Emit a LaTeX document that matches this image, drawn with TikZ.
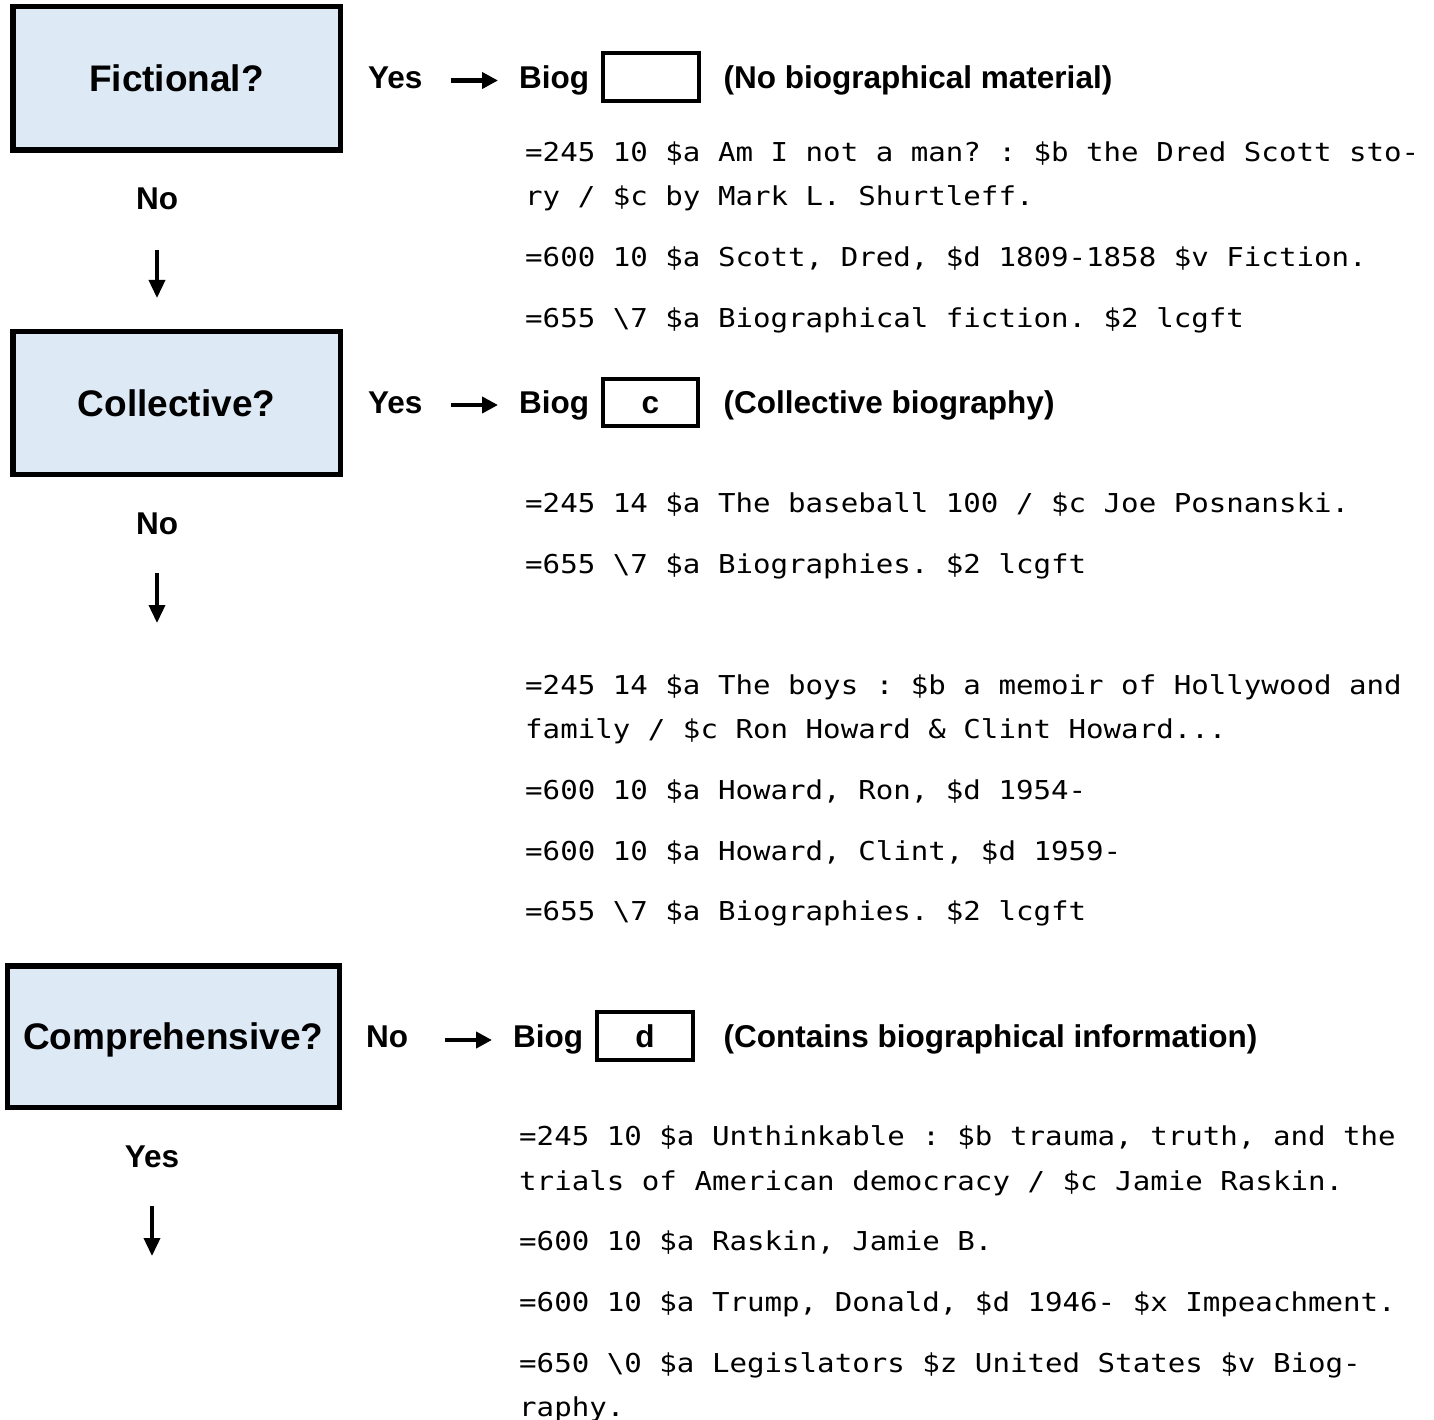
\documentclass[tikz,border=0pt]{standalone}
\usepackage{fontspec}
\setmainfont{Liberation Sans}
\newfontfamily\marcfont[FakeStretch=1.12]{DejaVu Sans Mono}
\usetikzlibrary{arrows.meta}
\definecolor{qfill}{RGB}{222,233,246}
\frenchspacing
\tikzset{
  qbox/.style={draw=black, line width=5.5pt, fill=qfill, inner sep=0pt,
    font=\fontsize{37}{44}\selectfont\bfseries, text height=26.5pt, text depth=0pt},
  lbl/.style={font=\fontsize{31.5}{38}\selectfont\bfseries, inner sep=0pt, anchor=base},
  lblw/.style={lbl, anchor=base west},
  codebox/.style={draw=black, line width=4.3pt, inner sep=0pt,
    font=\fontsize{31.5}{38}\selectfont\bfseries, text height=22.5pt, text depth=0pt},
  marc/.style={font=\fontsize{26}{31}\selectfont\marcfont\frenchspacing, inner sep=0pt, anchor=base west},
  harr/.style={line width=4.5pt, -{Triangle[length=16pt,width=16pt]}},
  varr/.style={line width=3.6pt, -{Triangle[length=18pt,width=16pt]}},
}
\begin{document}
\begin{tikzpicture}[x=1pt,y=-1pt]
\useasboundingbox (0,0) rectangle (1434,1420);

% question boxes
\node[qbox, minimum width=327.5pt, minimum height=143.5pt] (q1) at (176.5,78.5) {Fictional?};
\node[qbox, minimum width=327.5pt, minimum height=142.5pt] (q2) at (176.5,403) {Collective?};
\node[qbox, minimum width=332pt, minimum height=141.5pt] (q3) at (173.3,1036.5) {Comprehensive?};

% answers below boxes
\node[lbl] (n1) at (157,209.5) {No};
\node[lbl] (n2) at (157,534.5) {No};
\node[lbl] (y3) at (152,1167.5) {Yes};

\coordinate (v1s) at (157,250); \coordinate (v1e) at (157,298);
\coordinate (v2s) at (157,573); \coordinate (v2e) at (157,623);
\coordinate (v3s) at (152,1206); \coordinate (v3e) at (152,1256);
\draw[varr] (v1s) -- (v1e);
\draw[varr] (v2s) -- (v2e);
\draw[varr] (v3s) -- (v3e);

% row 1
\node[lblw] (a1) at (368,88.5) {Yes};
\coordinate (h1s) at (451,80.5); \coordinate (h1e) at (498,80.5);
\draw[harr] (h1s) -- (h1e);
\node[lblw] (b1) at (519,88.5) {Biog};
\node[codebox, minimum width=96pt, minimum height=48pt] (c1) at (651,77) {};
\node[lblw] (d1) at (723.5,88.5) {(No biographical material)};

% row 2
\node[lblw] (a2) at (368,413) {Yes};
\coordinate (h2s) at (451,405); \coordinate (h2e) at (498,405);
\draw[harr] (h2s) -- (h2e);
\node[lblw] (b2) at (519,413) {Biog};
\node[codebox, minimum width=95pt, minimum height=47pt] (c2) at (650.5,402.5) {c};
\node[lblw] (d2) at (723.5,413) {(Collective biography)};

% row 3
\node[lblw] (a3) at (366,1047) {No};
\coordinate (h3s) at (445,1040); \coordinate (h3e) at (492,1040);
\draw[harr] (h3s) -- (h3e);
\node[lblw] (b3) at (513,1047) {Biog};
\node[codebox, minimum width=96pt, minimum height=48pt] (c3) at (645,1036) {d};
\node[lblw] (d3) at (723.5,1047) {(Contains biographical information)};

% MARC examples
\node[marc] (m11) at (525,162) {=245 10 \$a Am I not a man? : \$b the Dred Scott sto-};
\node[marc] (m12) at (525,206) {ry / \$c by Mark L. Shurtleff.};
\node[marc] (m13) at (525,267) {=600 10 \$a Scott, Dred, \$d 1809-1858 \$v Fiction.};
\node[marc] (m14) at (525,328) {=655 \textbackslash7 \$a Biographical fiction. \$2 lcgft};

\node[marc] (m21) at (525,512) {=245 14 \$a The baseball 100 / \$c Joe Posnanski.};
\node[marc] (m22) at (525,573) {=655 \textbackslash7 \$a Biographies. \$2 lcgft};

\node[marc] (m31) at (525,694) {=245 14 \$a The boys : \$b a memoir of Hollywood and};
\node[marc] (m32) at (525,738) {family / \$c Ron Howard \& Clint Howard...};
\node[marc] (m33) at (525,799) {=600 10 \$a Howard, Ron, \$d 1954-};
\node[marc] (m34) at (525,860) {=600 10 \$a Howard, Clint, \$d 1959-};
\node[marc] (m35) at (525,920) {=655 \textbackslash7 \$a Biographies. \$2 lcgft};

\node[marc] (m41) at (519,1145) {=245 10 \$a Unthinkable : \$b trauma, truth, and the};
\node[marc] (m42) at (519,1190) {trials of American democracy / \$c Jamie Raskin.};
\node[marc] (m43) at (519,1250) {=600 10 \$a Raskin, Jamie B.};
\node[marc] (m44) at (519,1311) {=600 10 \$a Trump, Donald, \$d 1946- \$x Impeachment.};
\node[marc] (m45) at (519,1372) {=650 \textbackslash0 \$a Legislators \$z United States \$v Biog-};
\node[marc] (m46) at (519,1416) {raphy.};
\end{tikzpicture}
\end{document}
